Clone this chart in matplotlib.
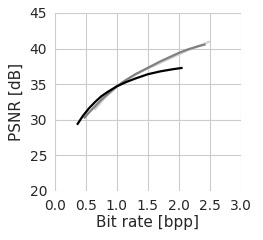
import numpy as np
import matplotlib
matplotlib.use("Agg")
import matplotlib.pyplot as plt
import seaborn as sns

sns.set_style("whitegrid")
plt.rcParams['font.family'] = ['DejaVu Sans']

# rate-distortion curves
rate_light = [0.64, 0.7, 0.8, 0.9, 1.0, 1.1, 1.25, 1.4, 1.5, 1.65, 1.8, 2.0, 2.15, 2.3, 2.5]
psnr_light = [31.4, 32.0, 33.0, 33.8, 34.6, 35.3, 36.1, 36.8, 37.2, 37.8, 38.4, 39.2, 39.8, 40.3, 41.0]

rate_gray = [0.47, 0.55, 0.65, 0.75, 0.85, 1.0, 1.15, 1.3, 1.5, 1.7, 1.85, 2.0, 2.15, 2.3, 2.43]
psnr_gray = [30.2, 31.0, 31.9, 32.8, 33.6, 34.7, 35.6, 36.4, 37.3, 38.2, 38.8, 39.4, 39.9, 40.3, 40.6]

rate_black = [0.36, 0.45, 0.55, 0.65, 0.75, 0.85, 1.0, 1.15, 1.3, 1.5, 1.7, 1.9, 2.06]
psnr_black = [29.3, 30.5, 31.6, 32.5, 33.3, 33.9, 34.7, 35.3, 35.8, 36.4, 36.8, 37.1, 37.3]

xticks = [0.0, 0.5, 1.0, 1.5, 2.0, 2.5, 3.0]
yticks = [20, 25, 30, 35, 40, 45]

fig, ax = plt.subplots(figsize=(2.63, 2.4), dpi=100)
ax.plot(rate_light, psnr_light, color='#d3d3d3', lw=1.6, solid_capstyle='butt')
ax.plot(rate_gray, psnr_gray, color='#808080', lw=1.6, solid_capstyle='butt')
ax.plot(rate_black, psnr_black, color='black', lw=1.6, solid_capstyle='butt')

ax.set_xlim(0, 3)
ax.set_ylim(20, 45)
ax.set_xticks(xticks)
ax.set_yticks(yticks)
ax.tick_params(labelsize=10, pad=2)
ax.set_xlabel('Bit rate [bpp]', fontsize=11, labelpad=2)
ax.set_ylabel('PSNR [dB]', fontsize=11, labelpad=4)
for s in ax.spines.values():
    s.set_visible(False)

fig.subplots_adjust(left=54.7/263, right=241/263, top=1-13/240, bottom=1-191/240)
fig.savefig('out.png', dpi=100)
